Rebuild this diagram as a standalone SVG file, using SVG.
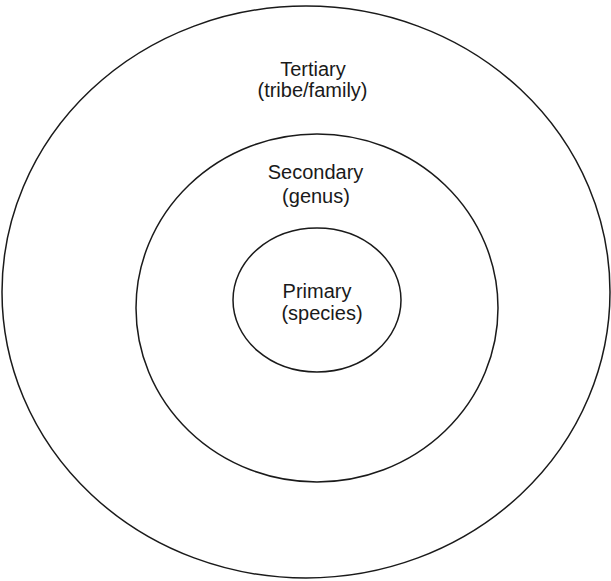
<svg xmlns="http://www.w3.org/2000/svg" width="611" height="581" viewBox="0 0 611 581">
<style>
.ring{fill:none;stroke:#1a1a1a;stroke-width:1.5}
.lbl{font-family:"Liberation Sans",Arial,sans-serif;font-size:20px;fill:#1a1a1a;text-anchor:middle}
</style>
<rect width="611" height="581" fill="#ffffff"/>
<g id="tertiary">
<ellipse class="ring" cx="306" cy="292" rx="304" ry="286"/>
<text class="lbl" x="313" y="76">Tertiary</text>
<text class="lbl" x="312.5" y="97">(tribe/family)</text>
</g>
<g id="secondary">
<ellipse class="ring" cx="317" cy="308" rx="181" ry="174"/>
<text class="lbl" x="315.5" y="179">Secondary</text>
<text class="lbl" x="316" y="203">(genus)</text>
</g>
<g id="primary">
<ellipse class="ring" cx="317" cy="300" rx="84" ry="72"/>
<text class="lbl" x="317" y="298">Primary</text>
<text class="lbl" x="322" y="320">(species)</text>
</g>
<g id="connectors"/>
</svg>
